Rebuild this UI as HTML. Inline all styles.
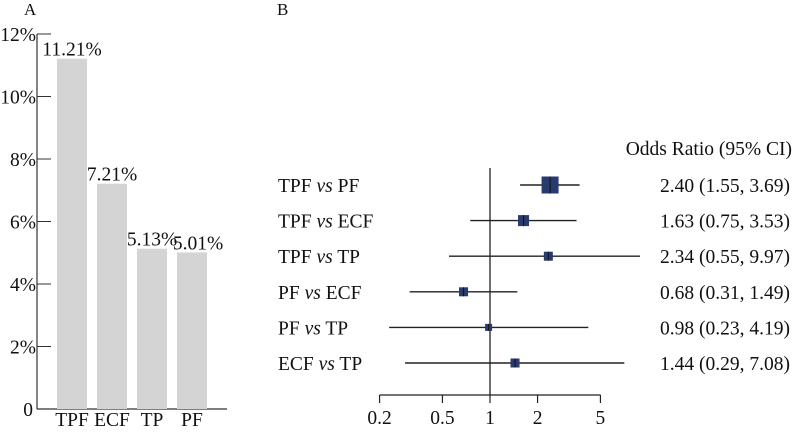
<!DOCTYPE html>
<html><head><meta charset="utf-8"><style>
body{margin:0;background:#fff}
svg text{font-family:"Liberation Serif",serif;fill:#111}
</style></head><body>
<svg width="797" height="429" id="fig">
<g id="A"></g>
<g id="B"></g>
</svg>
<script>
const barCats=["TPF","ECF","TP","PF"];
const barVals=[11.21,7.21,5.13,5.01];
const yTicks=[0,2,4,6,8,10,12];
const rowLabels=["TPF|PF","TPF|ECF","TPF|TP","PF|ECF","PF|TP","ECF|TP"];
const orVals=[2.40,1.63,2.34,0.68,0.98,1.44];
const ciLow=[1.55,0.75,0.55,0.31,0.23,0.29];
const ciHigh=[3.69,3.53,9.97,1.49,4.19,7.08];
const boxSize=[17,11,9,9,7,9];
const xTicks=[0.2,0.5,1,2,5];

const NS="http://www.w3.org/2000/svg";
const FS=19.5;
function mk(p,t,a,txt){const e=document.createElementNS(NS,t);for(const k in a)e.setAttribute(k,a[k]);if(txt!==undefined)e.textContent=txt;p.appendChild(e);return e;}
const A=document.getElementById('A'),B=document.getElementById('B');
// Panel A
const y0=409,yPer=(409-34)/12;
const ys=v=>y0-v*yPer;
let t=mk(A,'text',{x:24,y:15,'font-size':17});t.textContent="A";

let l=mk(A,'line',{x1:37,y1:34,x2:37,y2:y0,stroke:'#333','stroke-width':1.2});

l=mk(A,'line',{x1:37,y1:y0,x2:227,y2:y0,stroke:'#333','stroke-width':1.2});

yTicks.forEach(v=>{
  const y=ys(v);
  if(v>0){const tk=mk(A,'line',{x1:37,y1:y,x2:51,y2:y,stroke:'#333','stroke-width':1});
  }
  const lb=mk(A,'text',{x:v===0?33:36,y:y+7,'font-size':FS,'text-anchor':'end'},v===0?"0":v+"%");
  
});
barCats.forEach((c,i)=>{
  const x=57+i*40;
  const r=mk(A,'rect',{x:x,y:ys(barVals[i]),width:30,height:y0-ys(barVals[i]),fill:'#d4d4d4'});
  
  const v=mk(A,'text',{x:x+15+(i===3?6:0),y:ys(barVals[i])-3,'font-size':FS,'text-anchor':'middle'},barVals[i].toFixed(2)+"%");
  
  const c2=mk(A,'text',{x:x+15,y:426,'font-size':FS,'text-anchor':'middle'},c);
  
});
// Panel B
const x1=490,dec=158;
const xs=v=>x1+Math.log10(v)*dec;
const rowY=i=>185+i*35.6;
t=mk(B,'text',{x:277,y:15,'font-size':17},"B");

t=mk(B,'text',{x:792,y:155,'font-size':FS,'text-anchor':'end'},"Odds Ratio (95% CI)");

l=mk(B,'line',{x1:xs(1),y1:168,x2:xs(1),y2:395,stroke:'#222','stroke-width':1.3});

l=mk(B,'line',{x1:xs(0.2),y1:395,x2:xs(5),y2:395,stroke:'#222','stroke-width':1.2});

xTicks.forEach(v=>{
  const tk=mk(B,'line',{x1:xs(v),y1:395,x2:xs(v),y2:403,stroke:'#222','stroke-width':1.2});
  
  const lb=mk(B,'text',{x:xs(v),y:424,'font-size':FS,'text-anchor':'middle'},String(v));
  
});
rowLabels.forEach((s,i)=>{
  const y=rowY(i);const [a,b]=s.split('|');
  const lb=mk(B,'text',{x:278,y:y+7,'font-size':FS});
  
  mk(lb,'tspan',{},a+" ");mk(lb,'tspan',{'font-style':'italic'},"vs");mk(lb,'tspan',{}," "+b);
  const ci=mk(B,'line',{x1:xs(ciLow[i]),y1:y,x2:Math.min(640,xs(ciHigh[i])),y2:y,stroke:'#222','stroke-width':1.4});
  
  const s2=boxSize[i];
  const bx=mk(B,'rect',{x:xs(orVals[i])-s2/2,y:y-s2/2,width:s2,height:s2,fill:'#283a6e'});
  
  const tk=mk(B,'line',{x1:xs(orVals[i]),y1:y-s2/2,x2:xs(orVals[i]),y2:y+s2/2,stroke:'#111','stroke-width':1});
  
  const vl=mk(B,'text',{x:790,y:y+7,'font-size':FS,'text-anchor':'end'},orVals[i].toFixed(2)+" ("+ciLow[i].toFixed(2)+", "+ciHigh[i].toFixed(2)+")");
  
});
</script>
</body></html>
